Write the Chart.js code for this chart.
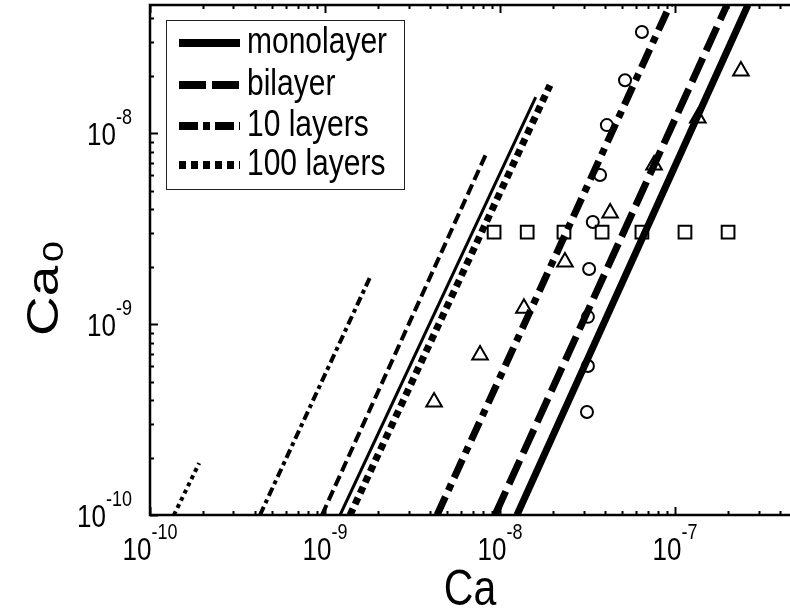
<!DOCTYPE html>
<html>
<head>
<meta charset="utf-8">
<title>Ca0 vs Ca</title>
<script src="https://cdn.jsdelivr.net/npm/chart.js@4.4.0/dist/chart.umd.min.js"></script>
<style>
    html, body { margin: 0; padding: 0; background: #fff; overflow: hidden; }
    #wrap { width: 790px; height: 612px; }
</style>
</head>
<body>
<div id="wrap"><canvas id="caChart" width="790" height="612"></canvas></div>
<script>
// Axis ranges (log-log)
const X_MIN = 1e-10, X_MAX = 4.54e-7;
const Y_MIN = 1e-10, Y_MAX = 4.68e-8;

// Labelled decades
const xTickValues = [1e-10, 1e-9, 1e-8, 1e-7];
const xTickLabels = ['-10', '-9', '-8', '-7'];
const yTickValues = [1e-10, 1e-9, 1e-8];
const yTickLabels = ['-10', '-9', '-8'];

// Model curves, thick set (end points of each straight line)
const monolayerCa   = [1.25e-8, 2.61e-7];
const monolayerCa0  = [1.0e-10, 4.68e-8];
const bilayerCa     = [9.36e-9, 1.98e-7];
const bilayerCa0    = [1.0e-10, 4.68e-8];
const tenLayersCa   = [4.37e-9, 9.36e-8];
const tenLayersCa0  = [1.0e-10, 4.68e-8];
const hundredLayersCa  = [1.39e-9, 1.93e-8];
const hundredLayersCa0 = [1.0e-10, 1.78e-8];

// Model curves, thin set
const monolayerThinCa   = [1.22e-9, 1.60e-8];
const monolayerThinCa0  = [1.0e-10, 1.54e-8];
const bilayerThinCa     = [9.61e-10, 8.43e-9];
const bilayerThinCa0    = [1.0e-10, 7.96e-9];
const tenLayersThinCa   = [4.25e-10, 1.81e-9];
const tenLayersThinCa0  = [1.0e-10, 1.76e-9];
const hundredLayersThinCa  = [1.37e-10, 1.91e-10];
const hundredLayersThinCa0 = [1.0e-10, 1.87e-10];

// Measured points
const circleCa  = [6.47e-8, 5.18e-8, 4.08e-8, 3.73e-8, 3.39e-8, 3.23e-8, 3.18e-8, 3.18e-8, 3.14e-8];
const circleCa0 = [3.38e-8, 1.89e-8, 1.10e-8, 6.03e-9, 3.42e-9, 1.94e-9, 1.09e-9, 6.03e-10, 3.46e-10];
const triangleCa  = [2.38e-7, 1.35e-7, 7.59e-8, 4.26e-8, 2.35e-8, 1.37e-8, 7.69e-9, 4.20e-9];
const triangleCa0 = [2.11e-8, 1.20e-8, 6.79e-9, 3.81e-9, 2.11e-9, 1.21e-9, 6.89e-10, 3.91e-10];
const squareCa  = [9.25e-9, 1.43e-8, 2.32e-8, 3.83e-8, 6.47e-8, 1.14e-7, 2.01e-7];
const squareCa0 = [3.03e-9, 3.03e-9, 3.03e-9, 3.03e-9, 3.03e-9, 3.03e-9, 3.03e-9];

const FONT = '"Liberation Sans", Arial, sans-serif';
const STRETCH = 1.2;   // text is drawn a little taller than wide

function toPoints(xs, ys) {
    return xs.map((x, i) => ({ x: x, y: ys[i] }));
}

function lineSet(label, xs, ys, width, dash, inLegend) {
    return {
        label: label,
        data: toPoints(xs, ys),
        showLine: true,
        borderColor: '#000',
        borderWidth: width,
        borderDash: dash,
        borderCapStyle: 'butt',
        pointRadius: 0,
        clip: 0,
        inLegend: inLegend
    };
}

function markerSet(label, xs, ys, style, radius) {
    return {
        label: label,
        data: toPoints(xs, ys),
        showLine: false,
        pointStyle: style,
        pointRadius: radius,
        borderColor: '#000',
        backgroundColor: 'rgba(0,0,0,0)',
        pointBorderWidth: 2,
        inLegend: false
    };
}

// Draw text stretched vertically
function stretchedText(ctx, text, x, y, size) {
    ctx.save();
    ctx.translate(x, y);
    ctx.scale(1, STRETCH);
    ctx.font = size + 'px ' + FONT;
    ctx.textAlign = 'left';
    ctx.textBaseline = 'alphabetic';
    ctx.fillText(text, 0, 0);
    ctx.restore();
}

function textWidth(ctx, text, size) {
    ctx.font = size + 'px ' + FONT;
    return ctx.measureText(text).width;
}

// "10" with a superscript exponent, anchored on its baseline
function powerLabel(ctx, exp, x, y, align) {
    const w10 = textWidth(ctx, '10', 26);
    const wExp = textWidth(ctx, exp, 18);
    let left = x;
    if (align === 'center') left = x - (w10 + wExp) / 2;
    if (align === 'right') left = x - (w10 + wExp);
    stretchedText(ctx, '10', left, y, 26);
    stretchedText(ctx, exp, left + w10, y - 21, 18);
}

// Decade and sub-decade tick positions inside a range
function logTicks(min, max) {
    const ticks = [];
    for (let d = -11; d <= -5; d++) {
        for (let m = 1; m <= 9; m++) {
            const v = m * Math.pow(10, d);
            if (v >= min * 0.999 && v <= max) ticks.push({ v: v, major: m === 1 });
        }
    }
    return ticks;
}

// Frame, inward ticks, labels, titles and legend
const framePlugin = {
    id: 'frame',
    afterDraw(chart) {
        const ctx = chart.ctx;
        const a = chart.chartArea;
        const xs = chart.scales.x, ys = chart.scales.y;
        ctx.save();
        ctx.strokeStyle = '#000';
        ctx.fillStyle = '#000';

        // axis lines: left, top, bottom
        ctx.lineWidth = 2.5;
        ctx.beginPath();
        ctx.moveTo(a.right + 2, a.top);
        ctx.lineTo(a.left, a.top);
        ctx.lineTo(a.left, a.bottom);
        ctx.lineTo(a.right + 2, a.bottom);
        ctx.stroke();

        // ticks
        ctx.lineWidth = 2;
        ctx.beginPath();
        logTicks(X_MIN, X_MAX).forEach(t => {
            const px = Math.round(xs.getPixelForValue(t.v)) + 0.5;
            const len = t.major ? 8 : 4;
            ctx.moveTo(px, a.bottom); ctx.lineTo(px, a.bottom - len);
            ctx.moveTo(px, a.top); ctx.lineTo(px, a.top + len);
        });
        logTicks(Y_MIN, Y_MAX).forEach(t => {
            const py = Math.round(ys.getPixelForValue(t.v)) + 0.5;
            const len = t.major ? 8 : 4;
            ctx.moveTo(a.left, py); ctx.lineTo(a.left + len, py);
        });
        ctx.stroke();

        // tick labels
        xTickValues.forEach((v, i) => {
            powerLabel(ctx, xTickLabels[i], xs.getPixelForValue(v), a.bottom + 45, 'center');
        });
        yTickValues.forEach((v, i) => {
            powerLabel(ctx, yTickLabels[i], a.left - 18, ys.getPixelForValue(v) + 12, 'right');
        });

        // axis titles
        const wCa = textWidth(ctx, 'Ca', 41);
        stretchedText(ctx, 'Ca', (a.left + a.right) / 2 - wCa / 2, a.bottom + 90, 41);

        // rotated y title with subscript
        ctx.save();
        ctx.translate(58, 336);
        ctx.scale(1, 1.25);
        ctx.rotate(-Math.PI / 2);
        ctx.font = '44px ' + FONT;
        ctx.fillText('Ca', 0, 0);
        const wCaY = ctx.measureText('Ca').width;
        ctx.font = '30px ' + FONT;
        ctx.fillText('0', wCaY + 3, 5);
        ctx.restore();

        // legend
        const box = { left: 166.5, top: 20.5, right: 404.5, bottom: 189.5 };
        ctx.lineWidth = 1;
        ctx.strokeStyle = '#222';
        ctx.strokeRect(box.left, box.top, box.right - box.left, box.bottom - box.top);
        const rows = [43, 85, 126, 165];
        const entries = chart.data.datasets.filter(ds => ds.inLegend);
        entries.forEach((ds, i) => {
            ctx.save();
            ctx.strokeStyle = '#000';
            ctx.lineWidth = 8;
            ctx.lineCap = 'butt';
            ctx.setLineDash(ds.legendDash || []);
            ctx.beginPath();
            ctx.moveTo(179, rows[i]);
            ctx.lineTo(240, rows[i]);
            ctx.stroke();
            ctx.restore();
            stretchedText(ctx, ds.label, 247, rows[i] + 10, 30);
        });
        ctx.restore();
    }
};

const datasets = [
    lineSet('monolayer', monolayerCa, monolayerCa0, 7, [], true),
    lineSet('bilayer', bilayerCa, bilayerCa0, 7, [26, 8], true),
    lineSet('10 layers', tenLayersCa, tenLayersCa0, 7, [20, 7, 7, 7], true),
    lineSet('100 layers', hundredLayersCa, hundredLayersCa0, 7, [7, 5], true),
    lineSet('monolayer, thin', monolayerThinCa, monolayerThinCa0, 3, [], false),
    lineSet('bilayer, thin', bilayerThinCa, bilayerThinCa0, 4, [11, 5], false),
    lineSet('10 layers, thin', tenLayersThinCa, tenLayersThinCa0, 4, [9, 4, 4, 4], false),
    lineSet('100 layers, thin', hundredLayersThinCa, hundredLayersThinCa0, 4, [4, 4], false),
    markerSet('circles', circleCa, circleCa0, 'circle', 6),
    markerSet('triangles', triangleCa, triangleCa0, 'triangle', 9),
    markerSet('squares', squareCa, squareCa0, 'rect', 9)
];
// legend samples use the same patterns as their curves
datasets[1].legendDash = [27, 6];
datasets[2].legendDash = [19, 5, 7, 5];
datasets[3].legendDash = [7, 5];

function initializeChart() {
    const ctx = document.getElementById('caChart').getContext('2d');
    new Chart(ctx, {
        type: 'scatter',
        data: { datasets: datasets },
        options: {
            responsive: false,
            animation: false,
            events: [],
            layout: {
                autoPadding: false,
                padding: { left: 150, right: 0, top: 5, bottom: 97 }
            },
            scales: {
                x: { type: 'logarithmic', min: X_MIN, max: X_MAX, display: false },
                y: { type: 'logarithmic', min: Y_MIN, max: Y_MAX, display: false }
            },
            plugins: {
                legend: { display: false },
                tooltip: { enabled: false }
            }
        },
        plugins: [framePlugin]
    });
}

document.addEventListener('DOMContentLoaded', initializeChart);
</script>
</body>
</html>
